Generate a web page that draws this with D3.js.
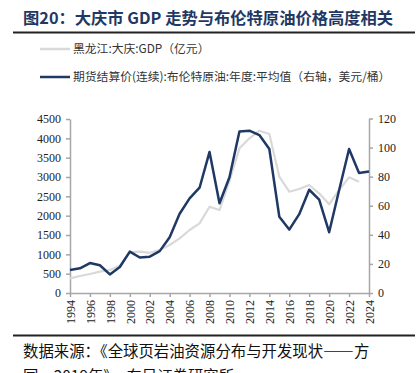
<!DOCTYPE html>
<html lang="zh">
<head>
<meta charset="utf-8">
<title>大庆市 GDP 与布伦特原油价格</title>
<script src="https://cdn.jsdelivr.net/npm/d3@7"></script>
<style>
  body { margin: 0; background: #fff; }
  svg { display: block; }
</style>
</head>
<body>
<script>
// years on the x axis
var years = d3.range(1994, 2025);
// 黑龙江:大庆:GDP (亿元), 1994-2023
var gdp = [380, 440, 491, 551, 595, 706, 1052, 1068, 1040, 1112,
           1241, 1414, 1629, 1802, 2232, 2146, 2900, 3741, 4000, 4198,
           4112, 3008, 2620, 2690, 2793, 2578, 2294, 2664, 2992, 2879];
// 布伦特原油 年度平均 (美元/桶), 1994-2024
var brent = [15.8, 17.0, 20.6, 19.1, 12.8, 17.9, 28.5, 24.4, 25.0, 28.8,
             38.3, 54.5, 65.1, 72.4, 97.0, 61.7, 79.6, 111.0, 111.6, 108.6,
             99.0, 52.4, 43.6, 54.2, 71.0, 64.2, 41.8, 70.7, 99.0, 82.5, 83.5];
var leftTicks = [0, 500, 1000, 1500, 2000, 2500, 3000, 3500, 4000, 4500];
var rightTicks = [0, 20, 40, 60, 80, 100, 120];
var xTicks = d3.range(1994, 2025, 2);

var w = 419, h = 373;
var svg = d3.select("body").append("svg").attr("width", w).attr("height", h);

var cjk = "'Noto Sans CJK SC', sans-serif";
var serif = "'Liberation Serif', 'Times New Roman', serif";

// title
svg.append("text")
   .attr("x", 23).attr("y", 24)
   .style("font-family", cjk).style("font-weight", "bold")
   .style("font-size", "16.3px").style("fill", "#1f3864")
   .text("图20：大庆市 GDP 走势与布伦特原油价格高度相关");
svg.append("line").attr("x1", 13).attr("x2", 415).attr("y1", 32.5).attr("y2", 32.5)
   .style("stroke", "#222").style("stroke-width", 2);

// scales
var x = d3.scaleLinear().domain([1994, 2024]).range([70, 369]);
var yL = d3.scaleLinear().domain([0, 4500]).range([293, 119]);
var yR = d3.scaleLinear().domain([0, 120]).range([293, 118.5]);

// legend
var legend = [
  {label: "黑龙江:大庆:GDP（亿元）", color: "#d9d9d9", y: 49},
  {label: "期货结算价(连续):布伦特原油:年度:平均值（右轴，美元/桶）", color: "#1f3864", y: 77}
];
legend.forEach(function(d) {
  svg.append("line").attr("x1", 40).attr("x2", 70).attr("y1", d.y).attr("y2", d.y)
     .style("stroke", d.color).style("stroke-width", 2.5);
  svg.append("text").attr("x", 73).attr("y", d.y + 4)
     .style("font-family", cjk).style("font-size", "11.8px").style("fill", "#333")
     .text(d.label);
});

// axes
var axisL = svg.append("g").attr("transform", "translate(70,0)")
   .call(d3.axisLeft(yL).tickValues(leftTicks).tickFormat(d3.format("d")).tickSize(4).tickSizeOuter(0));
var axisR = svg.append("g").attr("transform", "translate(369,0)")
   .call(d3.axisRight(yR).tickValues(rightTicks).tickFormat(d3.format("d")).tickSize(4).tickSizeOuter(0));
var axisX = svg.append("g").attr("transform", "translate(0,293)")
   .call(d3.axisBottom(x).tickValues(xTicks).tickFormat(d3.format("d")).tickSize(4).tickSizeOuter(0));

[axisL, axisR, axisX].forEach(function(g) {
  g.selectAll("path, line").style("stroke", "#a6a6a6").style("stroke-width", 1.5);
  g.selectAll("text").style("font-family", serif).style("font-size", "12px").style("fill", "#222");
});
axisL.selectAll("text").attr("x", -9);
axisR.selectAll("text").attr("x", 9);
axisX.selectAll("text")
   .attr("transform", "rotate(-90)")
   .attr("x", -7).attr("y", 0).attr("dy", "0.35em")
   .style("text-anchor", "end");

// lines
var gdpLine = d3.line().x(function(d, i) { return x(years[i]); }).y(function(d) { return yL(d); });
var brentLine = d3.line().x(function(d, i) { return x(years[i]); }).y(function(d) { return yR(d); });

svg.append("path").datum(gdp).attr("d", gdpLine)
   .style("fill", "none").style("stroke", "#d9d9d9").style("stroke-width", 2.2)
   .style("stroke-linejoin", "round");
svg.append("path").datum(brent).attr("d", brentLine)
   .style("fill", "none").style("stroke", "#1f3864").style("stroke-width", 2.5)
   .style("stroke-linejoin", "round");

// source
svg.append("line").attr("x1", 13).attr("x2", 415).attr("y1", 335.5).attr("y2", 335.5)
   .style("stroke", "#222").style("stroke-width", 2);
svg.append("text").attr("x", 23).attr("y", 357)
   .style("font-family", cjk).style("font-size", "15.4px").style("fill", "#111")
   .text("数据来源：《全球页岩油资源分布与开发现状——方");
svg.append("text").attr("x", 23).attr("y", 382)
   .style("font-family", cjk).style("font-size", "15.4px").style("fill", "#111")
   .text("国，2019年》，东吴证券研究所");
</script>
</body>
</html>
